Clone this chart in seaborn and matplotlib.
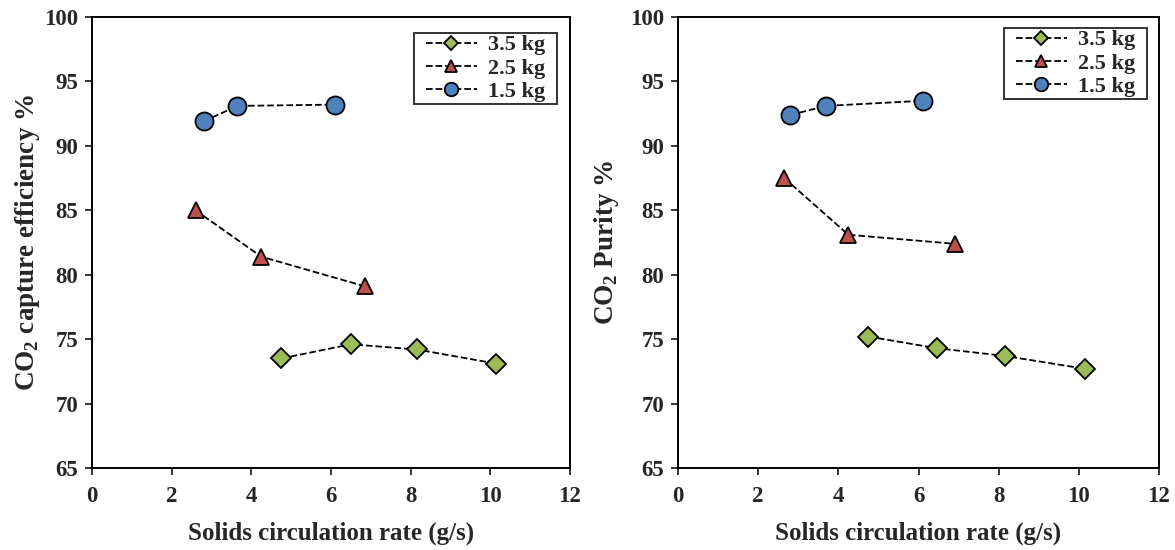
import matplotlib
matplotlib.use("Agg")
import matplotlib.pyplot as plt
import seaborn as sns
import pandas as pd

sns.set_style("ticks")
plt.rcParams['font.family'] = ['Liberation Serif', 'DejaVu Serif']
plt.rcParams['font.weight'] = 'bold'
plt.rcParams['mathtext.fontset'] = 'custom'
plt.rcParams['mathtext.rm'] = 'Liberation Serif:bold'
plt.rcParams['mathtext.bf'] = 'Liberation Serif:bold'

labels = ["3.5 kg", "2.5 kg", "1.5 kg"]
colors = ["#9BBB59", "#C0504D", "#4F81BD"]
markers = ["D", "^", "o"]
msizes = [10, 12, 13]

# Left panel: CO2 capture efficiency
cap_x_35 = [4.75, 6.5, 8.15, 10.15]
cap_y_35 = [73.5, 74.6, 74.2, 73.1]
cap_x_25 = [2.6, 4.25, 6.85]
cap_y_25 = [85.0, 81.4, 79.1]
cap_x_15 = [2.8, 3.65, 6.1]
cap_y_15 = [91.9, 93.1, 93.2]

# Right panel: CO2 purity
pur_x_35 = [4.75, 6.45, 8.15, 10.15]
pur_y_35 = [75.2, 74.3, 73.7, 72.7]
pur_x_25 = [2.65, 4.25, 6.9]
pur_y_25 = [87.5, 83.1, 82.4]
pur_x_15 = [2.8, 3.7, 6.1]
pur_y_15 = [92.4, 93.1, 93.5]

x_ticks = [0, 2, 4, 6, 8, 10, 12]
y_ticks = [65, 70, 75, 80, 85, 90, 95, 100]

fig = plt.figure(figsize=(11.75, 5.5), dpi=100)
ax1 = fig.add_axes([92/1175, 1-468/550, (570-92)/1175, (468-17)/550])
ax2 = fig.add_axes([678/1175, 1-468/550, (1159-678)/1175, (468-17)/550])

LEG_FS = 16
HPAD = 0.45  # horizontal frame padding, in legend font-size units
hpad_px = HPAD * LEG_FS * 100 / 72

panels = [
    (ax1, [(cap_x_35, cap_y_35), (cap_x_25, cap_y_25), (cap_x_15, cap_y_15)],
     "CO$_2$ capture efficiency %", (557, 33), -0.135),
    (ax2, [(pur_x_35, pur_y_35), (pur_x_25, pur_y_25), (pur_x_15, pur_y_15)],
     "CO$_2$ Purity %", (1147, 28), -0.148),
]

for ax, series, ylabel, legpx, ylx in panels:
    for (xs, ys), lab, c, m, ms in zip(series, labels, colors, markers, msizes):
        df = pd.DataFrame({"x": xs, "y": ys})
        sns.lineplot(data=df, x="x", y="y", ax=ax, color="black", linestyle="--",
                     linewidth=1.3, marker=m, markersize=ms, markerfacecolor=c,
                     markeredgecolor="black", markeredgewidth=1.3, label=lab,
                     sort=False, dashes=(3.5, 3))
    ax.set_xlim(0, 12)
    ax.set_ylim(65, 100)
    ax.set_xticks(x_ticks)
    ax.set_yticks(y_ticks)
    ax.tick_params(axis="both", labelsize=16.5, direction="out", length=5, width=1.3)
    ax.tick_params(axis="x", pad=8)
    ax.tick_params(axis="y", pad=5)
    for lbl in ax.get_xticklabels() + ax.get_yticklabels():
        lbl.set_fontweight("bold")
    ax.set_xlabel("Solids circulation rate (g/s)", fontsize=18, fontweight="bold")
    ax.xaxis.set_label_coords(0.5, -0.118)
    ax.set_ylabel(ylabel, fontsize=19.5, fontweight="bold", va="center")
    ax.yaxis.set_label_coords(ylx, 0.5)
    for sp in ax.spines.values():
        sp.set_visible(True)
        sp.set_linewidth(1.4)
        sp.set_color("black")
    # anchor in figure pixel coordinates (top-right corner of the legend frame)
    ax_x = (legpx[0] - hpad_px) / 1175
    ax_y = 1 - legpx[1] / 550
    leg = ax.legend(loc="upper right", bbox_to_anchor=(ax_x, ax_y),
                    bbox_transform=fig.transFigure, fontsize=LEG_FS,
                    frameon=True, fancybox=False, edgecolor="black",
                    handlelength=2.3, borderpad=0.08, labelspacing=0.12,
                    handletextpad=0.5, borderaxespad=0.0, markerscale=0.75)
    frame = leg.get_frame()
    frame.set_linewidth(1.4)
    frame.set_boxstyle("square", pad=HPAD)
    frame.set_mutation_aspect(0.001)
    for t in leg.get_texts():
        t.set_fontweight("bold")

fig.savefig("out.png", dpi=100)
